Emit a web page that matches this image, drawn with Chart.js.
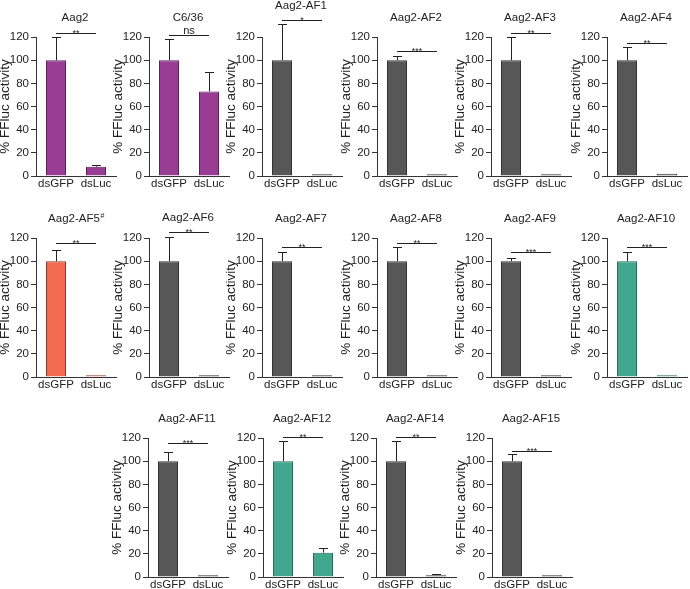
<!DOCTYPE html>
<html>
<head>
<meta charset="utf-8">
<script src="https://cdn.jsdelivr.net/npm/chart.js@4.4.0/dist/chart.umd.min.js"></script>
<style>
  body { margin: 0; background: #fff; width: 690px; height: 589px; position: relative; overflow: hidden; }
  canvas { position: absolute; }
</style>
</head>
<body>
<script>
// Data (mean + upper SD, % FFluc activity)
const panelTitles = ["Aag2", "C6/36", "Aag2-AF1", "Aag2-AF2", "Aag2-AF3", "Aag2-AF4",
  "Aag2-AF5#", "Aag2-AF6", "Aag2-AF7", "Aag2-AF8", "Aag2-AF9", "Aag2-AF10",
  "Aag2-AF11", "Aag2-AF12", "Aag2-AF14", "Aag2-AF15"];
const categories = ["dsGFP", "dsLuc"];
const gfpMeans = [100, 100, 100, 100, 100, 100, 100, 100, 100, 100, 100, 100, 100, 100, 100, 100];
const gfpErrors = [20, 18, 31, 4, 20, 11, 10, 21, 8, 12, 2.5, 8, 8, 17, 17, 6];
const lucMeans = [8, 73, 1.5, 1.5, 1.5, 2, 1.5, 1.5, 1.5, 1.5, 1.5, 1.5, 1.5, 21, 1.5, 1.5];
const lucErrors = [1.5, 17, 0, 0, 0, 0, 0, 0, 0, 0, 0, 0, 0, 4, 1, 0];
const sigLabels = ["**", "ns", "*", "***", "**", "**", "**", "**", "**", "**", "***", "***", "***", "**", "**", "***"];
const sigHeights = [123.5, 121.5, 134.5, 108, 123.5, 115, 115.5, 125, 112, 115.5, 108, 112, 115.5, 121, 120.5, 109];
const yTicks = [0, 20, 40, 60, 80, 100, 120];
const yTitle = "% FFluc activity";

// Styles
const PURPLE = "#993c94", GREY = "#575757", ORANGE = "#f26a4f", TEAL = "#41a88f";
const panelColors = [PURPLE, PURPLE, GREY, GREY, GREY, GREY,
  ORANGE, GREY, GREY, GREY, GREY, TEAL,
  GREY, TEAL, GREY, GREY];
const borderColors = { [PURPLE]: "#5e2059", [GREY]: "#333333", [ORANGE]: "#8a3a2a", [TEAL]: "#2a6a5a" };

// Layout: y-axis x position and canvas top per panel
const axisX = [36, 149, 262, 377, 491, 607, 36, 149, 262, 377, 491, 607, 148, 263, 376, 492];
const rowTop = [0, 0, 0, 0, 0, 0, 201, 201, 201, 201, 201, 201, 401, 401, 401, 401];
const AXIS_W = 36, CANVAS_W = 118, CANVAS_H = 200, X_AXIS_H = 24, PLOT_TOP = 37;
const FONT = "'Liberation Sans', Arial, sans-serif";
const INK = "#222";

// Error bars, significance bars and panel titles
const panelDecor = {
  id: "panelDecor",
  afterDraw(chart, args, opts) {
    const ctx = chart.ctx;
    const y = chart.scales.y;
    const meta = chart.getDatasetMeta(0);
    const data = chart.data.datasets[0].data;
    ctx.save();
    ctx.strokeStyle = INK;
    ctx.lineWidth = 1;

    opts.errors.forEach((err, i) => {
      if (!err) return;
      const bar = meta.data[i];
      const x = Math.round(bar.x) + 0.5;
      const top = Math.round(y.getPixelForValue(data[i] + err)) + 0.5;
      ctx.beginPath();
      ctx.moveTo(x, bar.y);
      ctx.lineTo(x, top);
      ctx.moveTo(x - 4.5, top);
      ctx.lineTo(x + 4.5, top);
      ctx.stroke();
    });

    const sy = Math.round(y.getPixelForValue(opts.sigHeight)) + 0.5;
    const x0 = meta.data[0].x, x1 = meta.data[1].x;
    ctx.beginPath();
    ctx.moveTo(x0, sy);
    ctx.lineTo(x1, sy);
    ctx.stroke();

    ctx.fillStyle = INK;
    ctx.textAlign = "center";
    ctx.textBaseline = "alphabetic";
    if (opts.sig === "ns") {
      ctx.font = "11px " + FONT;
      ctx.fillText("ns", (x0 + x1) / 2, sy - 2);
    } else {
      ctx.font = "9px " + FONT;
      ctx.fillText(opts.sig, (x0 + x1) / 2, sy + 2.5);
    }

    const ty = Math.min(chart.chartArea.top - 19, sy - 15);
    ctx.font = "11.5px " + FONT;
    ctx.textBaseline = "middle";
    if (opts.title.endsWith("#")) {
      const base = opts.title.slice(0, -1);
      const w = ctx.measureText(base).width;
      ctx.textAlign = "left";
      const left = (x0 + x1) / 2 - w / 2 - 2;
      ctx.fillText(base, left, ty);
      ctx.font = "7px " + FONT;
      ctx.fillText("#", left + w + 0.5, ty - 3);
    } else {
      ctx.fillText(opts.title, (x0 + x1) / 2 - 1, ty);
    }
    ctx.restore();
  }
};

panelTitles.forEach((title, i) => {
  const canvas = document.createElement("canvas");
  canvas.width = CANVAS_W;
  canvas.height = CANVAS_H;
  canvas.style.left = (axisX[i] - AXIS_W) + "px";
  canvas.style.top = rowTop[i] + "px";
  document.body.appendChild(canvas);

  new Chart(canvas, {
    type: "bar",
    data: {
      labels: categories,
      datasets: [{
        data: [gfpMeans[i], lucMeans[i]],
        backgroundColor: panelColors[i],
        borderColor: borderColors[panelColors[i]],
        borderWidth: 1,
        barPercentage: 0.5,
        categoryPercentage: 1
      }]
    },
    options: {
      responsive: false,
      animation: false,
      devicePixelRatio: 1,
      layout: { padding: { top: PLOT_TOP, right: 2, left: 0, bottom: 0 } },
      plugins: {
        legend: { display: false },
        tooltip: { enabled: false },
        panelDecor: {
          title: title,
          sig: sigLabels[i],
          sigHeight: sigHeights[i],
          errors: [gfpErrors[i], lucErrors[i]]
        }
      },
      scales: {
        x: {
          grid: { display: false, drawTicks: false, tickLength: 0 },
          border: { display: true, color: "#333", width: 1 },
          ticks: { color: INK, font: { family: FONT, size: 11.5 }, padding: 1, maxRotation: 0 },
          afterFit: s => { s.height = X_AXIS_H; }
        },
        y: {
          min: 0,
          max: 120,
          afterBuildTicks: s => { s.ticks = yTicks.map(v => ({ value: v })); },
          grid: { display: true, drawOnChartArea: false, drawTicks: true, tickLength: 5, color: "#333" },
          border: { display: true, color: "#333", width: 1 },
          ticks: { color: INK, font: { family: FONT, size: 11.5 }, padding: 2 },
          title: {
            display: true,
            text: yTitle,
            color: INK,
            font: { family: FONT, size: 13.5, lineHeight: 1 },
            padding: { top: -1, bottom: 0 }
          },
          afterFit: s => { s.width = AXIS_W; }
        }
      }
    },
    plugins: [panelDecor]
  });
});
</script>
</body>
</html>
